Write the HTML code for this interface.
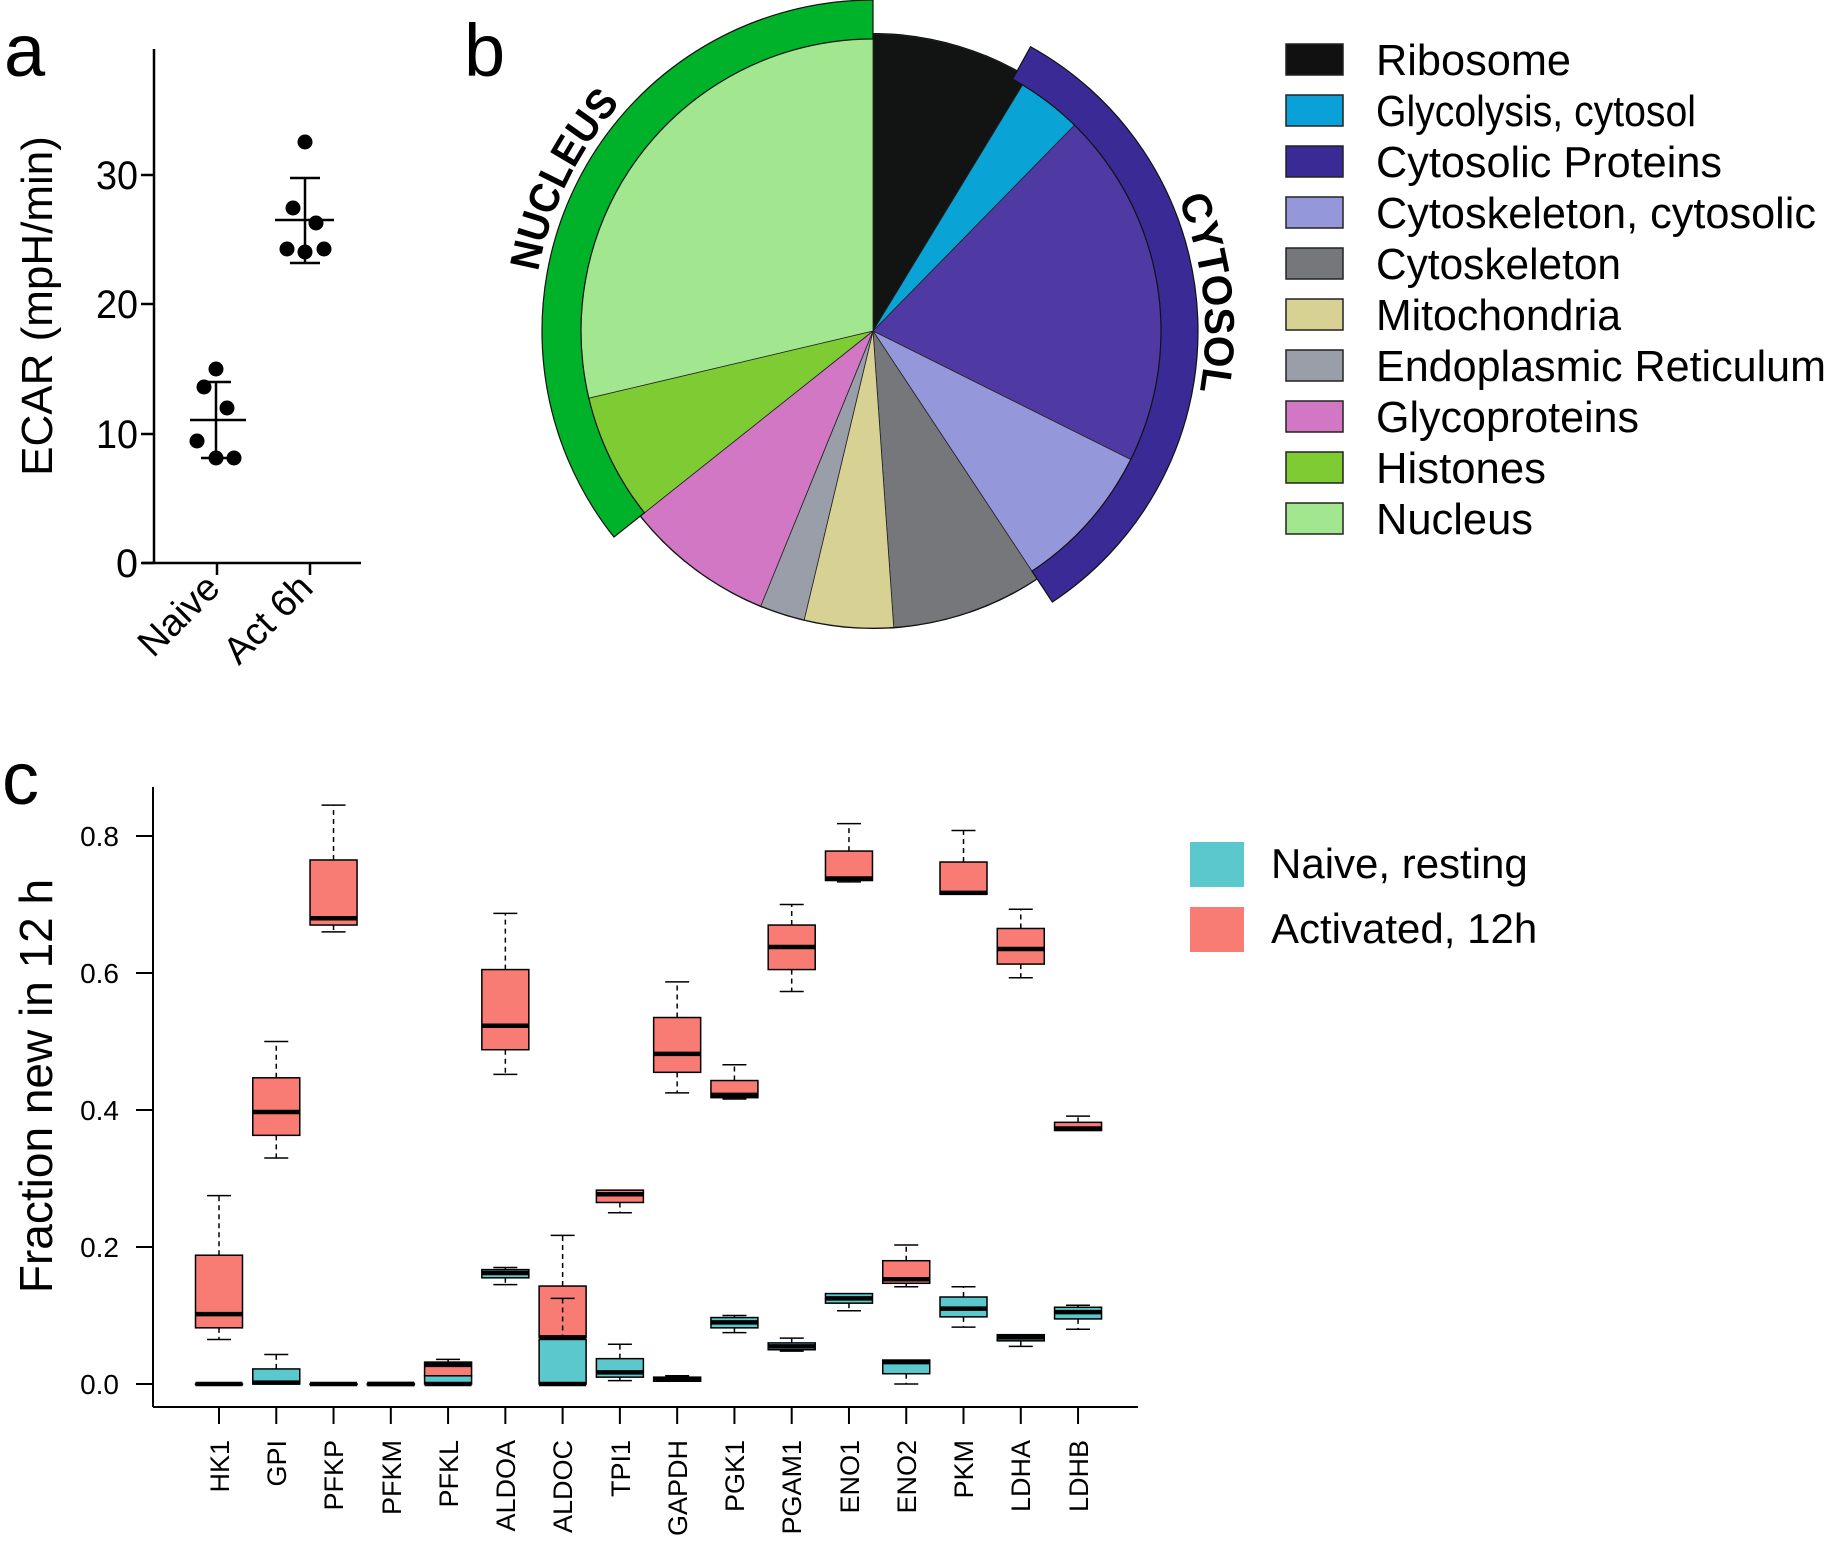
<!DOCTYPE html>
<html><head><meta charset="utf-8"><style>
html,body{margin:0;padding:0;background:#fff}
svg{display:block}
text{font-family:"Liberation Sans",Arial,sans-serif;fill:#000}
</style></head><body>
<svg id="s" width="1828" height="1542" viewBox="0 0 1828 1542" xmlns="http://www.w3.org/2000/svg">
<rect width="1828" height="1542" fill="#fff"/>
<text x="4" y="76" font-size="74">a</text>
<text x="464" y="76" font-size="74">b</text>
<text x="2" y="804" font-size="74">c</text>

<g stroke="#000" stroke-width="2.5" fill="none">
<line x1="154" y1="49" x2="154" y2="563"/>
<line x1="142" y1="563" x2="361" y2="563"/>
<line x1="141" y1="563" x2="154" y2="563"/>
<line x1="141" y1="434" x2="154" y2="434"/>
<line x1="141" y1="304" x2="154" y2="304"/>
<line x1="141" y1="175" x2="154" y2="175"/>
<line x1="217" y1="563" x2="217" y2="575"/>
<line x1="310" y1="563" x2="310" y2="575"/>
<line x1="216" y1="382" x2="216" y2="458"/>
<line x1="203" y1="382" x2="231" y2="382"/>
<line x1="201" y1="458" x2="229" y2="458"/>
<line x1="190" y1="420" x2="246" y2="420"/>
<line x1="305" y1="178" x2="305" y2="263"/>
<line x1="290" y1="178" x2="320" y2="178"/>
<line x1="290" y1="263" x2="320" y2="263"/>
<line x1="275" y1="220" x2="334" y2="220"/>
</g>
<g fill="#000">
<circle cx="216" cy="369" r="7.5"/><circle cx="204" cy="387" r="7.5"/><circle cx="227" cy="408" r="7.5"/>
<circle cx="197" cy="441" r="7.5"/><circle cx="216" cy="458" r="7.5"/><circle cx="234" cy="458" r="7.5"/>
<circle cx="305" cy="142" r="7.5"/><circle cx="293" cy="208" r="7.5"/><circle cx="316" cy="223" r="7.5"/>
<circle cx="287" cy="249" r="7.5"/><circle cx="305" cy="252" r="7.5"/><circle cx="324" cy="249" r="7.5"/>
</g>
<g font-size="40" text-anchor="end">
<text x="138" y="577" textLength="22" lengthAdjust="spacingAndGlyphs">0</text>
<text x="138" y="448" textLength="42" lengthAdjust="spacingAndGlyphs">10</text>
<text x="138" y="318" textLength="42" lengthAdjust="spacingAndGlyphs">20</text>
<text x="138" y="189" textLength="42" lengthAdjust="spacingAndGlyphs">30</text>
</g>
<text transform="translate(52,306) rotate(-90)" font-size="44" text-anchor="middle">ECAR (mpH/min)</text>
<text transform="translate(222,590) rotate(-45)" font-size="38" text-anchor="end">Naive</text>
<text transform="translate(315,590) rotate(-45)" font-size="38" text-anchor="end">Act 6h</text>

<g id="pie"></g>
<defs>
<path id="circN" d="M 873,-9 A 340 340 0 1 1 873,671 A 340 340 0 1 1 873,-9"/>
<path id="circC" d="M 873,-1 A 332 332 0 1 1 873,663 A 332 332 0 1 1 873,-1"/>
</defs>
<text font-size="42" font-weight="bold"><textPath href="#circN" startOffset="1756" text-anchor="middle" textLength="190" lengthAdjust="spacingAndGlyphs">NUCLEUS</textPath></text>
<text font-size="42" font-weight="bold"><textPath href="#circC" startOffset="484" text-anchor="middle" textLength="196" lengthAdjust="spacingAndGlyphs">CYTOSOL</textPath></text>

<g stroke="#222" stroke-width="1.5">
<rect x="1286" y="44" width="57" height="31" fill="#111"/>
<rect x="1286" y="95" width="57" height="31" fill="#0aa0d8"/>
<rect x="1286" y="146" width="57" height="31" fill="#3a2a96"/>
<rect x="1286" y="197" width="57" height="31" fill="#9497d9"/>
<rect x="1286" y="248" width="57" height="31" fill="#75777b"/>
<rect x="1286" y="299" width="57" height="31" fill="#d8d194"/>
<rect x="1286" y="350" width="57" height="31" fill="#9a9ea8"/>
<rect x="1286" y="401" width="57" height="31" fill="#d277c4"/>
<rect x="1286" y="452" width="57" height="31" fill="#7ecb34"/>
<rect x="1286" y="503" width="57" height="31" fill="#a2e68f"/>
</g>
<g font-size="44">
<text x="1376" y="75" textLength="195" lengthAdjust="spacingAndGlyphs">Ribosome</text>
<text x="1376" y="126" textLength="320" lengthAdjust="spacingAndGlyphs">Glycolysis, cytosol</text>
<text x="1376" y="177" textLength="346" lengthAdjust="spacingAndGlyphs">Cytosolic Proteins</text>
<text x="1376" y="228" textLength="440" lengthAdjust="spacingAndGlyphs">Cytoskeleton, cytosolic</text>
<text x="1376" y="279" textLength="245" lengthAdjust="spacingAndGlyphs">Cytoskeleton</text>
<text x="1376" y="330" textLength="245" lengthAdjust="spacingAndGlyphs">Mitochondria</text>
<text x="1376" y="381" textLength="450" lengthAdjust="spacingAndGlyphs">Endoplasmic Reticulum</text>
<text x="1376" y="432" textLength="263" lengthAdjust="spacingAndGlyphs">Glycoproteins</text>
<text x="1376" y="483" textLength="170" lengthAdjust="spacingAndGlyphs">Histones</text>
<text x="1376" y="534" textLength="157" lengthAdjust="spacingAndGlyphs">Nucleus</text>
</g>

<g stroke="#000" stroke-width="2">
<line x1="153" y1="787" x2="153" y2="1407"/>
<line x1="153" y1="1407" x2="1138" y2="1407"/>
<line x1="136" y1="1384" x2="153" y2="1384"/>
<line x1="136" y1="1247" x2="153" y2="1247"/>
<line x1="136" y1="1110" x2="153" y2="1110"/>
<line x1="136" y1="973" x2="153" y2="973"/>
<line x1="136" y1="836" x2="153" y2="836"/>
</g>
<g font-size="28" text-anchor="end">
<text x="119" y="1394">0.0</text>
<text x="119" y="1257">0.2</text>
<text x="119" y="1120">0.4</text>
<text x="119" y="983">0.6</text>
<text x="119" y="846">0.8</text>
</g>
<text transform="translate(52,1086) rotate(-90)" font-size="46" text-anchor="middle">Fraction new in 12 h</text>
<g id="boxes"></g>
<g id="xt" stroke="#000" stroke-width="2"></g>
<g font-size="27" text-anchor="end">
<text transform="translate(229,1440) rotate(-90)">HK1</text>
<text transform="translate(286,1440) rotate(-90)">GPI</text>
<text transform="translate(343,1440) rotate(-90)">PFKP</text>
<text transform="translate(401,1440) rotate(-90)">PFKM</text>
<text transform="translate(458,1440) rotate(-90)">PFKL</text>
<text transform="translate(515,1440) rotate(-90)">ALDOA</text>
<text transform="translate(572,1440) rotate(-90)">ALDOC</text>
<text transform="translate(630,1440) rotate(-90)">TPI1</text>
<text transform="translate(687,1440) rotate(-90)">GAPDH</text>
<text transform="translate(744,1440) rotate(-90)">PGK1</text>
<text transform="translate(801,1440) rotate(-90)">PGAM1</text>
<text transform="translate(859,1440) rotate(-90)">ENO1</text>
<text transform="translate(916,1440) rotate(-90)">ENO2</text>
<text transform="translate(973,1440) rotate(-90)">PKM</text>
<text transform="translate(1030,1440) rotate(-90)">LDHA</text>
<text transform="translate(1088,1440) rotate(-90)">LDHB</text>
</g>
<rect x="1190" y="842" width="54" height="45" fill="#5ac8cc"/>
<rect x="1190" y="907" width="54" height="45" fill="#f87c73"/>
<text x="1271" y="878" font-size="42">Naive, resting</text>
<text x="1271" y="943" font-size="42">Activated, 12h</text>
</svg>
<script>
(function(){
var NS="http://www.w3.org/2000/svg";
function el(p,t,a){var e=document.createElementNS(NS,t);for(var k in a)e.setAttribute(k,a[k]);p.appendChild(e);return e;}
var cx=873,cy=331;
function pt(a,r){var t=a*Math.PI/180;return [cx+r*Math.sin(t),cy-r*Math.cos(t)];}
function wedge(a0,a1,r){var p0=pt(a0,r),p1=pt(a1,r);return "M"+cx+","+cy+" L"+p0+" A"+r+","+r+" 0 "+((a1-a0)>180?1:0)+" 1 "+p1+" Z";}
function ring(a0,a1,r0,r1){var p0=pt(a0,r1),p1=pt(a1,r1),q1=pt(a1,r0),q0=pt(a0,r0);var l=(a1-a0)>180?1:0;
return "M"+p0+" A"+r1+","+r1+" 0 "+l+" 1 "+p1+" L"+q1+" A"+r0+","+r0+" 0 "+l+" 0 "+q0+" Z";}
var pie=document.getElementById("pie");
var sl=[[0,31.3,"#121413"],[31.3,44.4,"#09a3d6"],[44.4,116.5,"#4f3aa3"],[116.5,146.5,"#9497d9"],[146.5,176,"#75777b"],[176,193.4,"#d8d194"],[193.4,202.2,"#9a9ea8"],[202.2,231.5,"#d277c4"],[231.5,256.7,"#7ecb34"],[256.7,360,"#a2e68f"]];
el(pie,"circle",{cx:cx,cy:cy,r:298,fill:"#000"});
sl.forEach(function(s){el(pie,"path",{d:wedge(s[0],s[1],297),fill:s[2],stroke:"#222","stroke-width":0.8});});
el(pie,"path",{d:ring(231.5,360,292,331),fill:"#00b22a",stroke:"#111","stroke-width":1.2});
el(pie,"path",{d:ring(29,146.5,288,325),fill:"#3a2a96",stroke:"#111","stroke-width":1.2});
var bx=document.getElementById("boxes"),xt=document.getElementById("xt");
function Y(v){return 1384-685*v;}
var X0=219,DX=57.27,W=47;
var red=[[.065,.082,.102,.188,.275],[.33,.363,.397,.447,.5],[.66,.67,.68,.765,.845],[0,0,0,0,0],[.012,.012,.028,.032,.036],[.452,.488,.523,.605,.687],[.068,.068,.068,.143,.217],[.25,.265,.277,.283,.283],[.425,.455,.482,.535,.587],[.416,.418,.422,.443,.466],[.573,.605,.638,.67,.7],[.733,.735,.738,.778,.818],[.142,.147,.153,.18,.203],[.715,.715,.717,.762,.808],[.593,.613,.635,.665,.693],[.37,.37,.373,.382,.391]];
var cy2=[[0,0,0,0,0],[0,0,.002,.022,.043],[0,0,0,0,0],[0,0,0,0,0],[0,0,0,.012,.012],[.145,.155,.162,.167,.170],[0,0,0,.065,.125],[.005,.01,.017,.037,.058],[.004,.004,.007,.01,.012],[.075,.082,.09,.097,.1],[.048,.05,.055,.06,.067],[.107,.118,.125,.132,.132],[0,.015,.032,.035,.035],[.083,.098,.11,.127,.142],[.055,.063,.068,.072,.072],[.08,.095,.105,.112,.115]];
function box(i,d,col){var x=X0+i*DX;
 var g=el(bx,"g",{stroke:"#000"});
 if(d[4]>d[3]){el(g,"line",{x1:x,y1:Y(d[3]),x2:x,y2:Y(d[4]),"stroke-dasharray":"5,4","stroke-width":1.5});el(g,"line",{x1:x-12,y1:Y(d[4]),x2:x+12,y2:Y(d[4]),"stroke-width":1.5});}
 if(d[0]<d[1]){el(g,"line",{x1:x,y1:Y(d[1]),x2:x,y2:Y(d[0]),"stroke-dasharray":"5,4","stroke-width":1.5});el(g,"line",{x1:x-12,y1:Y(d[0]),x2:x+12,y2:Y(d[0]),"stroke-width":1.5});}
 var h=Y(d[1])-Y(d[3]);
 el(g,"rect",{x:x-W/2,y:Y(d[3]),width:W,height:Math.max(h,0.5),fill:col,"stroke-width":1.5});
 el(g,"line",{x1:x-W/2,y1:Y(d[2]),x2:x+W/2,y2:Y(d[2]),"stroke-width":4.5});
}
var i;
for(i=0;i<16;i++)box(i,red[i],"#f87c73");
for(i=0;i<16;i++)box(i,cy2[i],"#5ac8cc");
for(i=0;i<16;i++){var x=X0+i*DX;el(xt,"line",{x1:x,y1:1407,x2:x,y2:1424});}
})();
</script>
</body></html>
